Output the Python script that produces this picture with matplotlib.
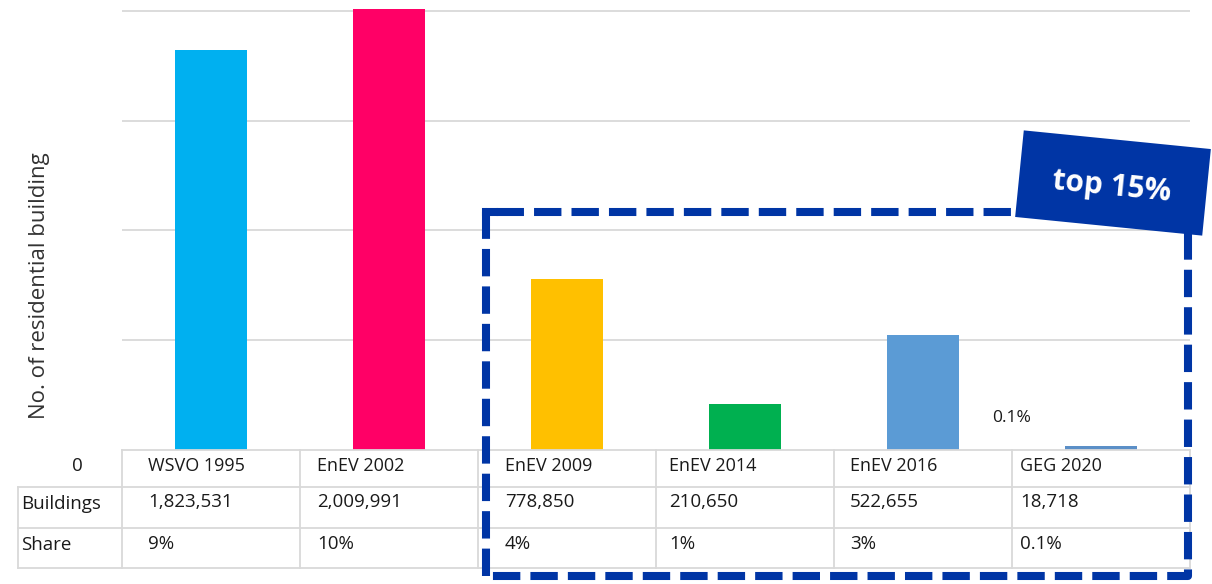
import matplotlib
matplotlib.use("Agg")
import matplotlib.pyplot as plt
from matplotlib.patches import Rectangle
from matplotlib.transforms import Affine2D
import numpy as np

# --- data -------------------------------------------------------------
standards = ["WSVO 1995", "EnEV 2002", "EnEV 2009", "EnEV 2014", "EnEV 2016", "GEG 2020"]
buildings = [1823531, 2009991, 778850, 210650, 522655, 18718]
shares = ["9%", "10%", "4%", "1%", "3%", "0.1%"]
bar_colors = ["#00B0F0", "#FF0066", "#FFC000", "#00B050", "#5B9BD5", "#5B8FC7"]
row_labels = ["Buildings", "Share"]
highlight_label = "top 15%"
geg_note = "0.1%"

# --- figure -----------------------------------------------------------
W, H = 1212, 584
fig = plt.figure(figsize=(W / 100, H / 100), dpi=100)
plt.rcParams["font.family"] = ["Open Sans", "DejaVu Sans"]

grid_c = "#D9D9D9"
blue = "#0035A5"
txt_c = "#1A1A1A"

plot_left, plot_right, plot_bottom = 122, 1190, 450
ax = fig.add_axes([plot_left / W, 1 - plot_bottom / H,
                   (plot_right - plot_left) / W, plot_bottom / H])
x = np.arange(len(standards))
ax.bar(x, buildings, width=0.4, color=bar_colors, zorder=3)
ax.set_xlim(-0.5, len(standards) - 0.5)
ax.set_ylim(0, 2050000)
ax.set_yticks([500000, 1000000, 1500000, 2000000])
ax.yaxis.grid(True, color=grid_c, linewidth=1.3, zorder=0)
ax.tick_params(left=False, bottom=False, labelleft=False, labelbottom=False)
for s in ax.spines.values():
    s.set_visible(False)
ax.patch.set_alpha(0)

# note above the GEG 2020 bar
ax.text(4.5, 145000, geg_note, ha="center", va="center", fontsize=12.5, color=txt_c)

# --- overlay in pixel coordinates ------------------------------------
ov = fig.add_axes([0, 0, 1, 1], zorder=5)
ov.set_xlim(0, W)
ov.set_ylim(H, 0)
ov.axis("off")
ov.patch.set_alpha(0)

fig.text(40 / W, 1 - 286 / H, "No. of residential building", rotation=90,
         ha="center", va="center", fontsize=16, color="#333333")

# data table under the bars
col_w = (plot_right - plot_left) / len(standards)
col_edges = [plot_left + i * col_w for i in range(len(standards) + 1)]
row_y = [450, 487, 528, 568]
left_edge = 18
lw_t = 1.3
for yy in row_y:
    xs = plot_left if yy == row_y[0] else left_edge
    ov.plot([xs, plot_right], [yy, yy], color=grid_c, lw=lw_t, zorder=1)
for xe in col_edges:
    ov.plot([xe, xe], [row_y[0], row_y[-1]], color=grid_c, lw=lw_t, zorder=1)
ov.plot([left_edge, left_edge], [row_y[1], row_y[-1]], color=grid_c, lw=lw_t, zorder=1)

text_x = [148, 317, 505, 669, 850, 1020]
fs_t = 13.5
ov.text(77, 466, "0", ha="center", va="center", fontsize=fs_t, color=txt_c)
ov.text(21, 504, row_labels[0], ha="left", va="center", fontsize=fs_t, color=txt_c)
ov.text(21, 545, row_labels[1], ha="left", va="center", fontsize=fs_t, color=txt_c)
for i, name in enumerate(standards):
    ov.text(text_x[i], 466, name, ha="left", va="center", fontsize=fs_t - 0.5,
            color=txt_c)
    ov.text(text_x[i], 502, f"{buildings[i]:,}", ha="left", va="center",
            fontsize=fs_t, color=txt_c)
    ov.text(text_x[i], 544, shares[i], ha="left", va="center", fontsize=fs_t, color=txt_c)

# dashed highlight frame
bx0, by0, bx1, by1 = 486, 212, 1188, 576
ov.plot([bx0, bx0, bx1, bx1, bx0], [by1, by0, by0, by1, by1], color=blue,
        lw=5.8, linestyle=(0, (3.4, 1.25)), solid_capstyle="butt",
        dash_capstyle="butt", zorder=4)
ov.plot([bx0, bx0 + 8], [by0, by0], color=blue, lw=5.8, solid_capstyle="projecting", zorder=4)

# tilted label tag
cx, cy, bw, bh, ang = 1113, 183, 188, 87, 5.7
tag = Rectangle((cx - bw / 2, cy - bh / 2), bw, bh, facecolor=blue, edgecolor="none",
                transform=Affine2D().rotate_deg_around(cx, cy, ang) + ov.transData,
                zorder=6)
ov.add_patch(tag)
ov.text(1112, 187, highlight_label, ha="center", va="center", rotation=-ang,
        fontsize=21.5, fontweight="bold", color="white", zorder=7,
        rotation_mode="anchor")

fig.savefig("out.png", dpi=100)
